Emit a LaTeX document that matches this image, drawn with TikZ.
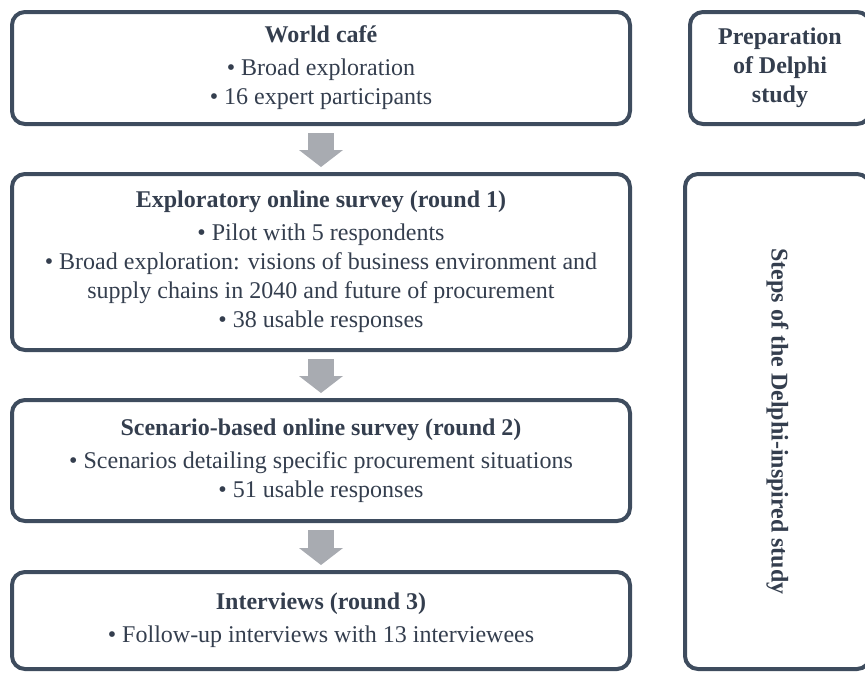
\documentclass[tikz,border=0pt]{standalone}
\usepackage{fontspec}
\setmainfont{Liberation Serif}
\usetikzlibrary{arrows.meta}
\definecolor{boxline}{RGB}{62,76,94}
\definecolor{boxtext}{RGB}{52,62,78}
\definecolor{arrowgray}{RGB}{168,171,177}
\begin{document}
\begin{tikzpicture}[x=1pt,y=-1pt,
  stage/.style={draw=boxline,line width=4pt,rounded corners=13pt,align=center,text=boxtext,
    font=\fontsize{24}{29}\selectfont,inner sep=0pt},
  flow/.style={draw=arrowgray,line width=26pt,
    -{Triangle[width=44pt,length=17pt,line width=0pt]},shorten <=7pt,shorten >=5pt}]
\useasboundingbox (0,0) rectangle (865,673);
\clip (0,0) rectangle (865,673);
\node[stage,minimum width=618pt,minimum height=112pt] (cafe) at (321,68)
  {\textbf{World café}\\[4pt] • Broad exploration\\ • 16 expert participants};
\node[stage,minimum width=618pt,minimum height=176pt] (explore) at (321,262)
  {\textbf{Exploratory online survey (round 1)}\\[4pt] • Pilot with 5 respondents\\
   • Broad exploration: visions of business environment and\\
   supply chains in 2040 and future of procurement\\ • 38 usable responses};
\node[stage,minimum width=618pt,minimum height=121pt] (scenario) at (321,460.5)
  {\textbf{Scenario-based online survey (round 2)}\\[4pt]
   • Scenarios detailing specific procurement situations\\ • 51 usable responses};
\node[stage,minimum width=618pt,minimum height=97pt] (interviews) at (321,620.5)
  {\textbf{Interviews (round 3)}\\[4pt] • Follow-up interviews with 13 interviewees};
\node[stage,font=\fontsize{24}{29}\selectfont\bfseries,minimum width=180pt,minimum height=112pt] (prep) at (780,68)
  {Preparation\\ of Delphi\\ study};
\node[stage,font=\fontsize{24}{29}\selectfont\bfseries,rotate=-90,minimum width=495pt,minimum height=185pt] (steps) at (777.5,421.5)
  {Steps of the Delphi-inspired study};
\draw[flow] (cafe) -- (explore);
\draw[flow] (explore) -- (scenario);
\draw[flow] (scenario) -- (interviews);
\end{tikzpicture}
\end{document}
